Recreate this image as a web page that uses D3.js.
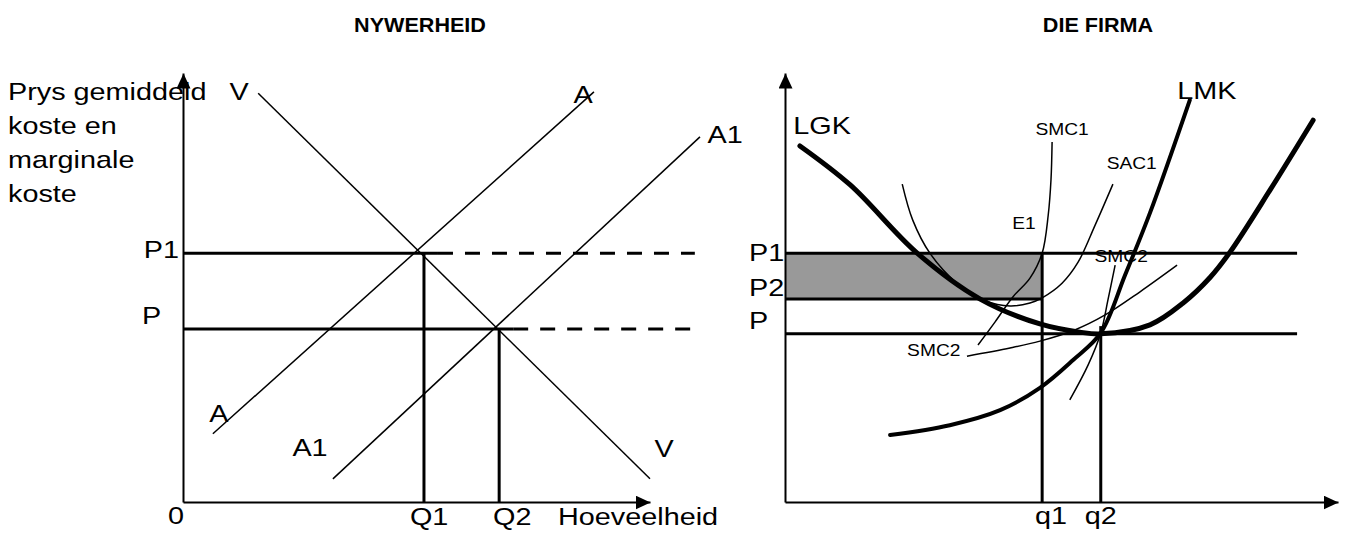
<!DOCTYPE html>
<html>
<head>
<meta charset="utf-8">
<script src="https://cdn.jsdelivr.net/npm/d3@7"></script>
<style>
body { margin: 0; background: #fff; }
text { font-family: Arial, "Liberation Sans", sans-serif; fill: #000; }
</style>
</head>
<body>
<script>
var width = 1346;
var height = 533;

// ---- NYWERHEID (industry), values in chart units 0..100 ----
var qIndustry = [51.6, 67.7];            // Q1, Q2
var pIndustry = [58.0, 40.3];            // P1, P
var industryDashEnd = 109.6;
var demandV  = [[16.1, 95.3], [100, 5.4]];
var supplyA  = [[6.4, 15.9], [88.0, 95.6]];
var supplyA1 = [[32.1, 5.4], [110.7, 85.1]];

var industryLabels = [
  {t: "V",  x: 12.0,  y: 95.6},
  {t: "A",  x: 85.7,  y: 94.9},
  {t: "A1", x: 116.1, y: 85.5},
  {t: "A",  x: 7.7,   y: 20.5},
  {t: "A1", x: 27.2,  y: 12.6},
  {t: "V",  x: 103,   y: 12.4},
  {t: "P1", x: -8.4,  y: 58.7, a: "start"},
  {t: "P",  x: -8.8,  y: 43.4, a: "start"},
  {t: "0",  x: -1.5,  y: -3.3},
  {t: "Q1", x: 48.6,  y: -3.4, a: "start"},
  {t: "Q2", x: 66.4,  y: -3.4, a: "start"},
  {t: "Hoeveelheid", x: 80.3, y: -3.4, a: "start"}
];
var yTitle = ["Prys gemiddeld", "koste en", "marginale", "koste"];

// ---- DIE FIRMA ----
var qFirm = [46.5, 57.1];                // q1, q2
var pFirm = [58.0, 47.3, 39.2];          // P1, P2, P
var firmLineEnd = 92.6;
var q2Top = 41.0;

var lgk = [[2.7, 83.0], [11.8, 73.9], [23.9, 58.0], [35.3, 47.3], [46.1, 41.5],
           [53.3, 39.6], [57.1, 39.2], [66.0, 41.3], [72.0, 46.4], [76.9, 52.4],
           [80.5, 58.3], [87.7, 72.7], [95.5, 89.0]];
var lmk = [[19.0, 15.6], [29.8, 17.9], [38.9, 21.4], [46.1, 26.6], [52.1, 33.1],
           [57.1, 39.4], [61.5, 52.9], [66.0, 67.4], [73.2, 93.7]];
var smc1 = [[48.3, 83.9], [48.1, 75.1], [47.6, 66.9], [46.5, 58.0], [44.3, 52.2],
            [41.2, 47.8], [38.0, 42.0], [34.9, 36.6]];
var sac1 = [[21.2, 74.1], [23.1, 65.7], [26.2, 58.0], [31.1, 51.0], [36.2, 46.9],
            [40.7, 45.7], [44.3, 46.4], [46.5, 47.6], [50.1, 51.0], [53.0, 55.9],
            [56.1, 64.6], [59.3, 74.1]];
var sac2 = [[32.9, 34.0], [40.7, 35.9], [46.1, 37.5], [52.4, 40.1], [57.9, 43.6],
            [64.2, 49.0], [70.9, 55.2]];
var smc2 = [[59.7, 55.2], [58.4, 47.1], [57.1, 39.4], [54.8, 31.9], [51.5, 23.8]];

var firmLabels = [
  {t: "LGK",  x: 6.7,  y: 87.6},
  {t: "LMK",  x: 76.3, y: 95.8},
  {t: "SMC1", x: 50.1, y: 86.7, s: 16},
  {t: "SAC1", x: 62.7, y: 79.0, s: 16},
  {t: "E1",   x: 43.2, y: 64.8, s: 16},
  {t: "SMC2", x: 60.8, y: 57.3, s: 16},
  {t: "SMC2", x: 26.9, y: 35.4, s: 16},
  {t: "P1", x: -6.5, y: 58.0, a: "start"},
  {t: "P2", x: -6.5, y: 49.9, a: "start"},
  {t: "P",  x: -6.5, y: 42.2, a: "start"},
  {t: "q1", x: 45.2, y: -3.3, a: "start"},
  {t: "q2", x: 54.2, y: -3.3, a: "start"}
];

var svg = d3.select("body").append("svg")
    .attr("width", width)
    .attr("height", height);

var defs = svg.append("defs");
defs.append("marker")
    .attr("id", "arrow")
    .attr("markerUnits", "userSpaceOnUse")
    .attr("viewBox", "0 0 15 14")
    .attr("refX", 15).attr("refY", 7)
    .attr("markerWidth", 15).attr("markerHeight", 14)
    .attr("orient", "auto")
  .append("path")
    .attr("d", "M0,0L15,7L0,14Z")
    .attr("fill", "#000");

function drawAxes(g, x, y) {
  var ax = g.append("g")
      .attr("transform", "translate(0," + y(0) + ")")
      .call(d3.axisBottom(x).ticks(0).tickSizeOuter(0));
  var ay = g.append("g")
      .attr("transform", "translate(" + x(0) + ",0)")
      .call(d3.axisLeft(y).ticks(0).tickSizeOuter(0));
  [ax, ay].forEach(function(a) {
    a.select(".domain")
      .attr("stroke", "#000")
      .attr("stroke-width", 2)
      .attr("marker-end", "url(#arrow)");
  });
}

function drawLabels(g, x, y, labels, size) {
  g.selectAll(null)
    .data(labels)
    .enter()
      .append("text")
      .attr("transform", function(d) { return "translate(" + x(d.x) + "," + y(d.y) + ") scale(1.2,1)"; })
      .attr("text-anchor", function(d) { return d.a || "middle"; })
      .attr("dominant-baseline", "central")
      .style("font-size", function(d) { return (d.s || size) + "px"; })
      .text(function(d) { return d.t; });
}

function seg(g, x, y, pts, w, dash) {
  g.append("path")
    .attr("d", d3.line().x(function(d) { return x(d[0]); }).y(function(d) { return y(d[1]); })(pts))
    .attr("fill", "none")
    .attr("stroke", "#000")
    .attr("stroke-width", w)
    .attr("stroke-dasharray", dash || null);
}

function title(txt, cx) {
  svg.append("text")
      .attr("transform", "translate(" + cx + ",32) scale(1.08,1)")
      .attr("text-anchor", "middle")
      .style("font-size", "20px")
      .style("font-weight", "bold")
      .text(txt);
}

// ======== left: NYWERHEID ========
var xL = d3.scaleLinear().domain([0, 100]).range([183, 650]);
var yL = d3.scaleLinear().domain([0, 100]).range([502, 73]);
var gL = svg.append("g");

drawAxes(gL, xL, yL);

pIndustry.forEach(function(p, i) {
  var q = qIndustry[i];
  seg(gL, xL, yL, [[0, p], [q + 3, p]], 3);
  seg(gL, xL, yL, [[q + 3, p], [industryDashEnd, p]], 3, "15,12");
  seg(gL, xL, yL, [[q, p], [q, 0]], 3);
});

[demandV, supplyA, supplyA1].forEach(function(l) { seg(gL, xL, yL, l, 1.5); });

drawLabels(gL, xL, yL, industryLabels, 24);

gL.selectAll(".ytitle")
  .data(yTitle)
  .enter()
    .append("text")
    .attr("class", "ytitle")
    .attr("transform", function(d, i) { return "translate(8," + (100 + i * 34) + ") scale(1.2,1)"; })
    .style("font-size", "24px")
    .text(function(d) { return d; });

title("NYWERHEID", 420);

// ======== right: DIE FIRMA ========
var xR = d3.scaleLinear().domain([0, 100]).range([785, 1338]);
var yR = d3.scaleLinear().domain([0, 100]).range([502, 73]);
var gR = svg.append("g");

gR.append("rect")
    .attr("x", xR(0))
    .attr("y", yR(pFirm[0]))
    .attr("width", xR(qFirm[0]) - xR(0))
    .attr("height", yR(pFirm[1]) - yR(pFirm[0]))
    .attr("fill", "#999999");

drawAxes(gR, xR, yR);

seg(gR, xR, yR, [[0, pFirm[0]], [firmLineEnd, pFirm[0]]], 3);
seg(gR, xR, yR, [[0, pFirm[1]], [qFirm[0], pFirm[1]]], 3);
seg(gR, xR, yR, [[0, pFirm[2]], [firmLineEnd, pFirm[2]]], 3);
seg(gR, xR, yR, [[qFirm[0], pFirm[0]], [qFirm[0], 0]], 3);
seg(gR, xR, yR, [[qFirm[1], q2Top], [qFirm[1], 0]], 3);

var curve = d3.line()
    .x(function(d) { return xR(d[0]); })
    .y(function(d) { return yR(d[1]); })
    .curve(d3.curveCatmullRom.alpha(0.5));

[[smc1, 1.5], [sac1, 1.5], [sac2, 1.5], [smc2, 1.5], [lmk, 4], [lgk, 5]].forEach(function(c) {
  gR.append("path")
    .attr("d", curve(c[0]))
    .attr("fill", "none")
    .attr("stroke", "#000")
    .attr("stroke-width", c[1])
    .attr("stroke-linecap", c[1] > 3 ? "round" : "butt");
});

drawLabels(gR, xR, yR, firmLabels, 24);

title("DIE FIRMA", 1098);
</script>
</body>
</html>
